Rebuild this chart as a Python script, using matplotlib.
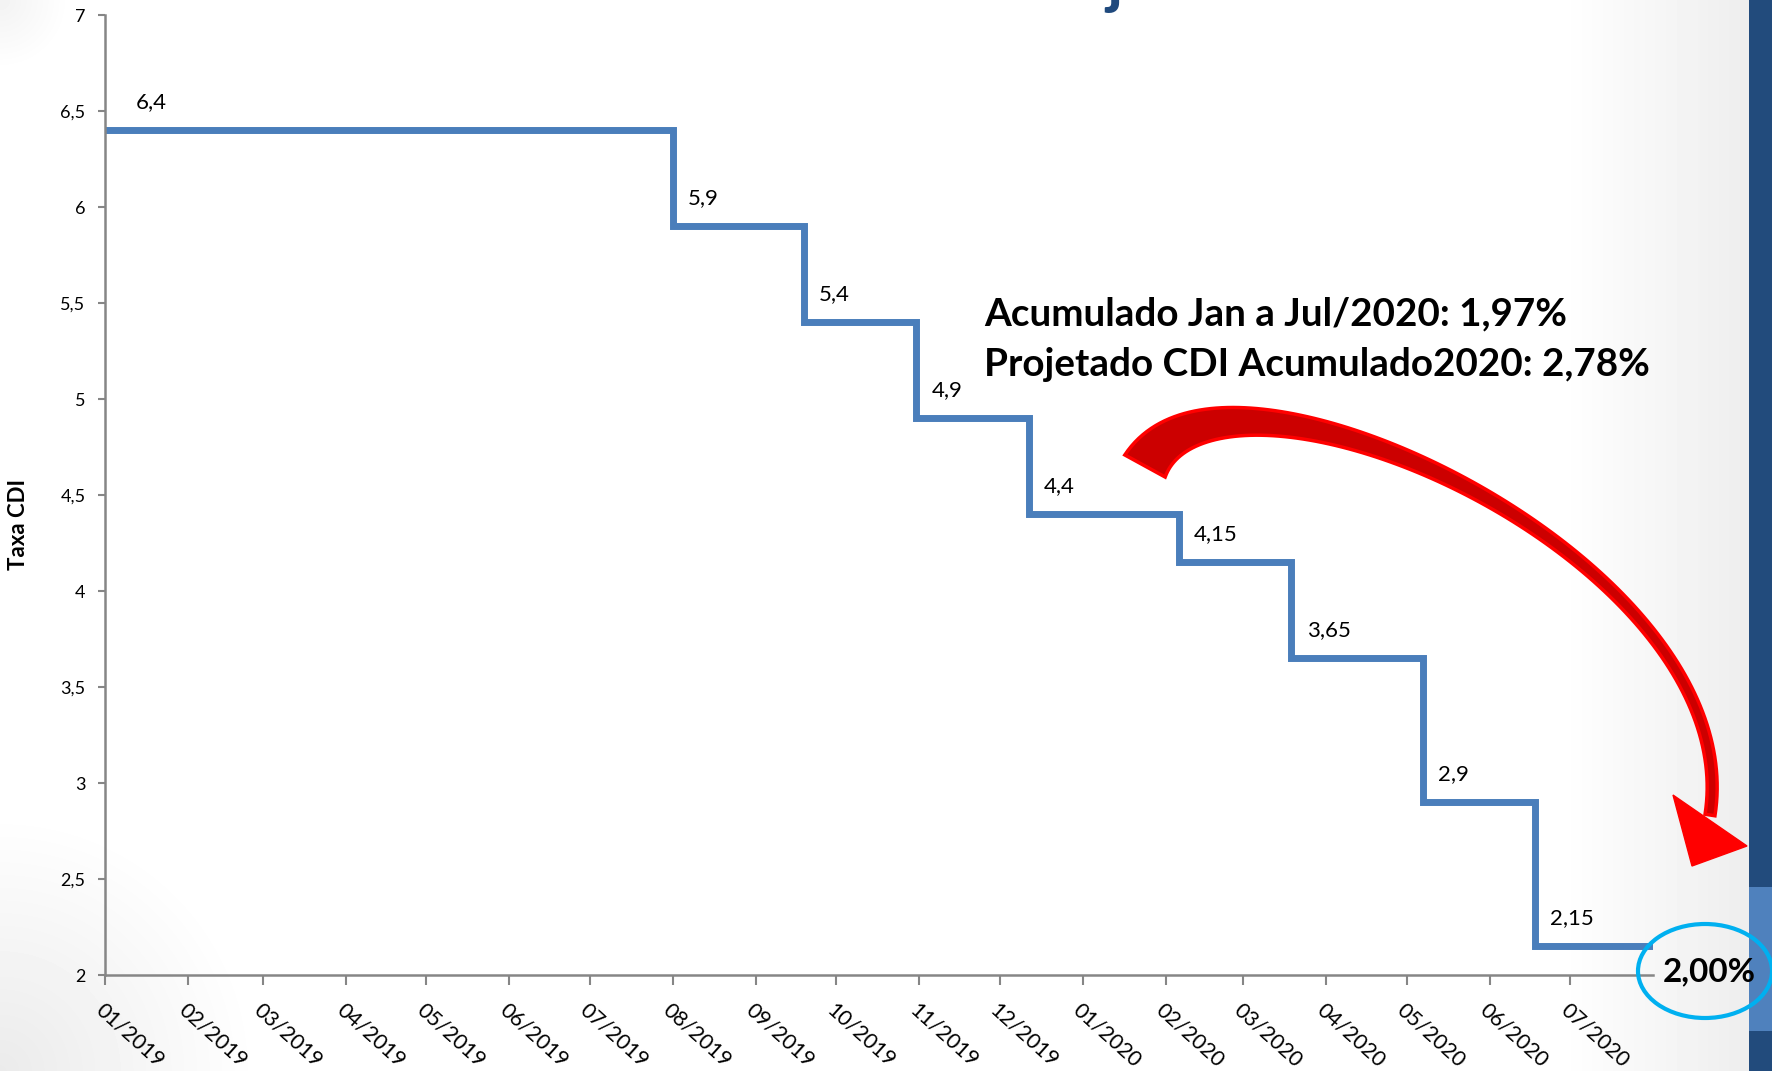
import numpy as np
import pandas as pd
import matplotlib
matplotlib.use('Agg')
import matplotlib.pyplot as plt
from matplotlib.patches import Polygon, Ellipse, Rectangle

plt.rcParams['font.family'] = ['Lato', 'DejaVu Sans']

# Taxa CDI (% a.a.) - datas em que a taxa muda
change_dates = ['2019-01-01', '2019-08-01', '2019-09-19', '2019-10-31', '2019-12-12',
                '2020-02-06', '2020-03-19', '2020-05-07', '2020-06-18']
rates = [6.4, 5.9, 5.4, 4.9, 4.4, 4.15, 3.65, 2.9, 2.15]
end_date = '2020-07-31'
month_ticks = pd.date_range('2019-01-01', '2020-07-01', freq='MS')
y_ticks = [2, 2.5, 3, 3.5, 4, 4.5, 5, 5.5, 6, 6.5, 7]
note_lines = ['Acumulado Jan a Jul/2020: 1,97%', 'Projetado CDI Acumulado2020: 2,78%']
projected = '2,00%'

W, H = 1772, 1071
fig = plt.figure(figsize=(W / 100, H / 100), dpi=100)

# fundo com leve degradê (slide)
bg = fig.add_axes([0, 0, 1, 1], zorder=-5)
xx, yy = np.meshgrid(np.arange(W), np.arange(H))
g = np.ones((H, W))
g -= 0.07 * np.clip((xx - 1560) / (1749 - 1560), 0, 1)
r1 = np.hypot(xx, yy - H)
g -= 0.08 * np.clip(1 - r1 / 260, 0, 1)
r2 = np.hypot(xx, yy)
g -= 0.05 * np.clip(1 - r2 / 70, 0, 1)
bg.imshow(g, cmap='gray', vmin=0, vmax=1, extent=(0, W, H, 0), aspect='auto')
bg.axis('off')

# grafico principal
ax = fig.add_axes([105 / W, 1 - 975 / H, (1653 - 105) / W, (975 - 15) / H], zorder=1)
ax.patch.set_alpha(0)
d = pd.to_datetime(change_dates + [end_date])
v = rates + [rates[-1]]
ax.plot(d, v, drawstyle='steps-post', color='#4A7EBB', lw=5, solid_joinstyle='miter')
for i, (dt, r) in enumerate(zip(pd.to_datetime(change_dates), rates)):
    dx = 22 if i == 0 else 11
    ax.annotate(f'{r:g}'.replace('.', ','), (dt, r), xytext=(dx, 16),
                textcoords='offset points', ha='left', va='baseline', fontsize=16)

ax.set_xlim(pd.Timestamp('2019-01-01'), pd.Timestamp('2020-08-01'))
ax.set_ylim(2, 7)
ax.set_xticks(month_ticks)
ax.set_xticklabels(month_ticks.strftime('%m/%Y'), rotation=-42, ha='left', va='top',
                   rotation_mode='anchor', fontsize=15.5)
ax.set_yticks(y_ticks)
ax.set_yticklabels([f'{t:g}'.replace('.', ',') for t in y_ticks], fontsize=13)
ax.tick_params(axis='x', length=7, width=1.5, color='#868686', pad=11)
ax.tick_params(axis='y', length=5, width=1.5, color='#868686', pad=9)
for s in ['top', 'right']:
    ax.spines[s].set_visible(False)
for s in ['left', 'bottom']:
    ax.spines[s].set_color('#868686')
    ax.spines[s].set_linewidth(1.8)

fig.text(19 / W, 1 - 525 / H, 'Taxa CDI', rotation=90, ha='center', va='center',
         fontsize=16, fontweight='bold')

# camada de anotacoes em pixels
ov = fig.add_axes([0, 0, 1, 1], zorder=5)
ov.set_xlim(0, W)
ov.set_ylim(H, 0)
ov.axis('off')
ov.patch.set_alpha(0)

# titulo cortado no topo
ov.text(1114, 2, 'j', fontsize=46, fontweight='bold', color='#1F497D',
        ha='center', va='baseline', clip_on=True)

for k, line in enumerate(note_lines):
    ov.text(984, 325 + 51 * k, line, fontsize=27.8, fontweight='bold', ha='left', va='baseline')

# seta vermelha curva
P0, P1, P2, P3 = (np.array(p, float) for p in [(1145, 466), (1225, 320), (1750, 560), (1710, 815)])
t = np.linspace(0, 1, 120)[:, None]
c = (1 - t) ** 3 * P0 + 3 * (1 - t) ** 2 * t * P1 + 3 * (1 - t) * t ** 2 * P2 + t ** 3 * P3
dc = 3 * (1 - t) ** 2 * (P1 - P0) + 6 * (1 - t) * t * (P2 - P1) + 3 * t ** 2 * (P3 - P2)
dc /= np.linalg.norm(dc, axis=1)[:, None]
n = np.column_stack([-dc[:, 1], dc[:, 0]])
w = 10 + 36 * (1 - t) ** 3
shaft = np.vstack([c + n * w / 2, (c - n * w / 2)[::-1]])
ov.add_patch(Polygon(shaft, closed=True, facecolor='#CC0000', edgecolor='#FF0000', lw=2.5))
head = P3 + np.array([(-37, -20), (37, 31), (-18, 51)])
ov.add_patch(Polygon(head, closed=True, facecolor='#FF0000', edgecolor='#FF0000', lw=1))

# faixa azul a direita
ov.add_patch(Rectangle((1749, 0), 23, H, facecolor='#224B7C', edgecolor='none'))
ov.add_patch(Rectangle((1749, 887), 23, 144, facecolor='#4F81BD', edgecolor='none'))

# valor projetado
ov.add_patch(Ellipse((1705, 971), 134, 94, facecolor='none', edgecolor='#00B0F0', lw=3))
ov.text(1709, 972, projected, fontsize=24, fontweight='bold', ha='center', va='center')

fig.savefig('out.png', dpi=100)
